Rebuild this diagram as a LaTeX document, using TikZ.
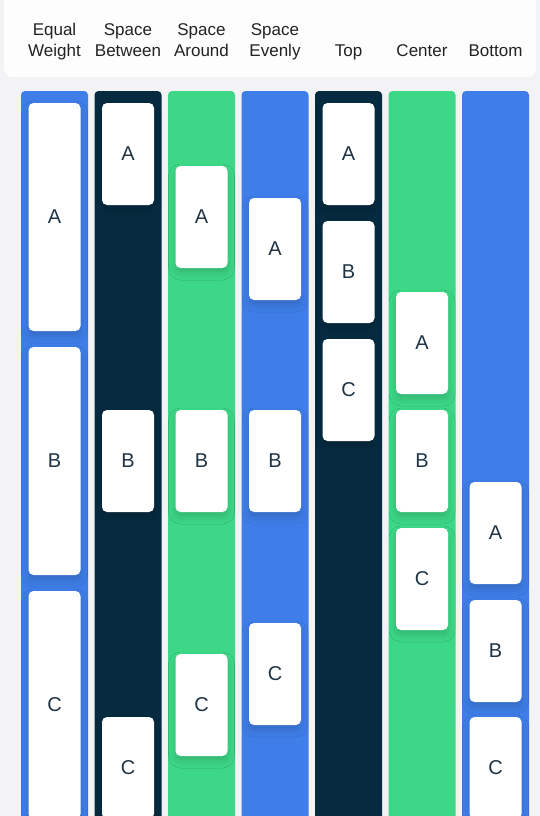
\documentclass[tikz,border=0pt]{standalone}
\usepackage{fontspec}
\setmainfont{Liberation Sans}
\usetikzlibrary{shadows.blur}
\definecolor{bg}{HTML}{F3F3F5}
\definecolor{panel}{HTML}{FDFDFD}
\definecolor{cblue}{HTML}{3F7EE8}
\definecolor{cnavy}{HTML}{062B40}
\definecolor{cgreen}{HTML}{3DD887}
\definecolor{letter}{HTML}{1F3344}
\definecolor{head}{HTML}{222222}
\tikzset{
  colbox/.style={rounded corners=4pt, draw=none},
  card/.style={fill=white, rounded corners=5pt, minimum width=52pt, inner sep=0pt,
    text=letter, font=\fontsize{20}{24}\selectfont,
    blur shadow={shadow xshift=0pt, shadow yshift=-5pt, shadow blur radius=7pt, shadow opacity=16}},
  headlbl/.style={text=head, font=\fontsize{17}{20.5}\selectfont, anchor=base, inner sep=0pt}
}
\begin{document}
\begin{tikzpicture}[x=1pt,y=-1pt]
\useasboundingbox (0,0) rectangle (540,816);
\clip (0,0) rectangle (540,816);
\fill[bg] (0,0) rectangle (540,816);
\fill[panel, rounded corners=8pt] (4,-20) rectangle (536,77);
% header labels
\foreach \i/\t/\u in {0/Equal/Weight,1/Space/Between,2/Space/Around,3/Space/Evenly}{
  \node[headlbl] (ha\i) at (21+73.5*\i+33.5, 36) {\t};
  \node[headlbl] (hb\i) at (21+73.5*\i+33.5, 56.5) {\u};
}
\foreach \i/\u in {4/Top,5/Center,6/Bottom}{
  \node[headlbl] (hb\i) at (21+73.5*\i+33.5, 56.5) {\u};
}
% columns
\foreach \i/\c in {0/cblue,1/cnavy,2/cgreen,3/cblue,4/cnavy,5/cgreen,6/cblue}{
  \fill[\c, colbox] (21+73.5*\i,91) rectangle (21+73.5*\i+67,840);
}
% cards
\foreach \i/\h/\a/\b/\c in {0/228/217/461/705, 1/102/154/461/768, 2/102/217/461/705, 3/102/249/461/674, 4/102/154/272/390, 5/102/343/461/579, 6/102/533/651/768}{
  \node[card, minimum height=\h pt] (k\i a) at (21+73.5*\i+33.5,\a) {A};
  \node[card, minimum height=\h pt] (k\i b) at (21+73.5*\i+33.5,\b) {B};
  \node[card, minimum height=\h pt] (k\i c) at (21+73.5*\i+33.5,\c) {C};
}
\end{tikzpicture}
\end{document}
